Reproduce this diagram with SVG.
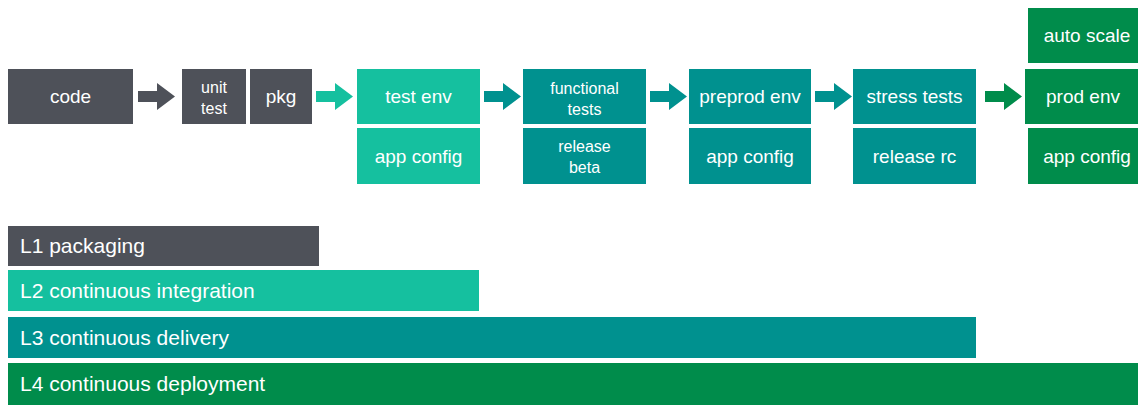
<svg xmlns="http://www.w3.org/2000/svg" xmlns:xlink="http://www.w3.org/1999/xlink" width="1138" height="405" viewBox="0 0 1138 405">
<style>
.t{font-family:"Liberation Sans",Arial,sans-serif;fill:#ffffff;text-anchor:middle;font-size:19px}
.s{font-size:16px}
.b{font-family:"Liberation Sans",Arial,sans-serif;fill:#ffffff;font-size:21px}
.gray{fill:#4e5159}
.lt{fill:#15c09f}
.dt{fill:#00918f}
.gr{fill:#008c4b}
</style>
<defs>
<path id="arr" d="M0,-5.5 H19 V-13.5 L37,0 L19,13.5 V5.5 H0 Z"/>
</defs>
<rect width="1138" height="405" fill="#ffffff"/>
<g id="connectors">
<use xlink:href="#arr" x="138" y="96.5" class="gray"/>
<use xlink:href="#arr" x="316" y="96.5" class="lt"/>
<use xlink:href="#arr" x="484" y="96.5" class="dt"/>
<use xlink:href="#arr" x="650" y="96.5" class="dt"/>
<use xlink:href="#arr" x="815" y="96.5" class="dt"/>
<use xlink:href="#arr" x="985" y="96.5" class="gr"/>
</g>
<g id="code"><rect x="8" y="69" width="125" height="55" class="gray"/><text x="70.5" y="103" class="t">code</text></g>
<g id="unit-test"><rect x="182" y="69" width="64" height="55" class="gray"/><text x="214" y="93" class="t s">unit</text><text x="214" y="114" class="t s">test</text></g>
<g id="pkg"><rect x="250" y="69" width="62" height="55" class="gray"/><text x="281" y="103" class="t">pkg</text></g>
<g id="test-env"><rect x="357" y="69" width="123" height="55" class="lt"/><text x="418.5" y="103" class="t">test env</text></g>
<g id="app-config-1"><rect x="357" y="128" width="123" height="56" class="lt"/><text x="418.5" y="163" class="t">app config</text></g>
<g id="functional-tests"><rect x="523" y="69" width="123" height="55" class="dt"/><text x="584.5" y="94" class="t s">functional</text><text x="584.5" y="115" class="t s">tests</text></g>
<g id="release-beta"><rect x="523" y="128" width="123" height="56" class="dt"/><text x="584.5" y="152" class="t s">release</text><text x="584.5" y="173" class="t s">beta</text></g>
<g id="preprod-env"><rect x="689" y="69" width="122" height="55" class="dt"/><text x="750" y="103" class="t">preprod env</text></g>
<g id="app-config-2"><rect x="689" y="128" width="122" height="56" class="dt"/><text x="750" y="163" class="t">app config</text></g>
<g id="stress-tests"><rect x="853" y="69" width="123" height="55" class="dt"/><text x="914.5" y="103" class="t">stress tests</text></g>
<g id="release-rc"><rect x="853" y="128" width="123" height="56" class="dt"/><text x="914.5" y="163" class="t">release rc</text></g>
<g id="auto-scale"><rect x="1028" y="8" width="115" height="55" class="gr"/><text x="1087" y="42" class="t">auto scale</text></g>
<g id="prod-env"><rect x="1025" y="69" width="118" height="55" class="gr"/><text x="1083" y="103" class="t">prod env</text></g>
<g id="app-config-3"><rect x="1028" y="128" width="115" height="56" class="gr"/><text x="1087" y="163" class="t">app config</text></g>
<g id="L1"><rect x="8" y="226" width="311" height="40" class="gray"/><text x="20" y="253" class="b">L1 packaging</text></g>
<g id="L2"><rect x="8" y="270" width="471" height="41" class="lt"/><text x="20" y="298" class="b">L2 continuous integration</text></g>
<g id="L3"><rect x="8" y="317" width="968" height="41" class="dt"/><text x="20" y="345" class="b">L3 continuous delivery</text></g>
<g id="L4"><rect x="8" y="363" width="1135" height="42" class="gr"/><text x="20" y="391" class="b">L4 continuous deployment</text></g>
</svg>
